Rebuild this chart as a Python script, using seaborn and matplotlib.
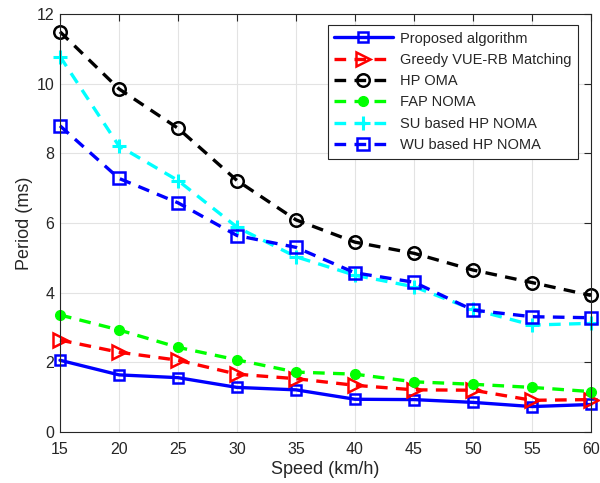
import matplotlib
matplotlib.use("Agg")
import matplotlib.pyplot as plt
import seaborn as sns
import pandas as pd

speed = [15, 20, 25, 30, 35, 40, 45, 50, 55, 60]
proposed = [2.06, 1.64, 1.56, 1.28, 1.21, 0.94, 0.93, 0.85, 0.73, 0.79]
greedy = [2.64, 2.29, 2.06, 1.66, 1.53, 1.34, 1.21, 1.20, 0.91, 0.93]
hp_oma = [11.49, 9.85, 8.72, 7.22, 6.09, 5.45, 5.13, 4.65, 4.29, 3.92]
fap_noma = [3.36, 2.93, 2.43, 2.07, 1.72, 1.66, 1.44, 1.37, 1.28, 1.16]
su_hp_noma = [10.78, 8.21, 7.22, 5.88, 5.03, 4.50, 4.17, 3.52, 3.07, 3.12]
wu_hp_noma = [8.79, 7.28, 6.58, 5.64, 5.30, 4.57, 4.30, 3.50, 3.31, 3.28]

dash = (0, (3.5, 2.5))
series = [
    ("Proposed algorithm", proposed, dict(color="#0000ff", marker="s", ls="-", ms=7, mfc="none", mew=1.8)),
    ("Greedy VUE-RB Matching", greedy, dict(color="#ff0000", marker=">", ls=dash, ms=10, mfc="none", mew=1.8)),
    ("HP OMA", hp_oma, dict(color="#000000", marker="o", ls=dash, ms=9, mfc="none", mew=1.8)),
    ("FAP NOMA", fap_noma, dict(color="#00ff00", marker="o", ls=dash, ms=7, mfc="#00ff00", mew=1.0)),
    ("SU based HP NOMA", su_hp_noma, dict(color="#00ffff", marker="+", ls=dash, ms=10, mfc="none", mew=2.2)),
    ("WU based HP NOMA", wu_hp_noma, dict(color="#0000ff", marker="s", ls=dash, ms=8, mfc="none", mew=1.8)),
]

sns.set_style("whitegrid", {"grid.color": "#e3e3e3", "axes.edgecolor": "#262626"})
plt.rcParams["font.family"] = ["Liberation Sans", "DejaVu Sans"]

fig = plt.figure(figsize=(6.0, 4.83), dpi=100)
ax = fig.add_axes([0.1, 0.1056, 0.885, 0.8654])

for name, vals, st in series:
    df = pd.DataFrame({"speed": speed, "period": vals})
    sns.lineplot(data=df, x="speed", y="period", ax=ax, label=name,
                 color=st["color"], marker=st["marker"], linestyle=st["ls"],
                 linewidth=2.4, markersize=st["ms"], markerfacecolor=st["mfc"],
                 markeredgecolor=st["color"], markeredgewidth=st["mew"],
                 clip_on=False, zorder=3)

ax.set_xlim(15, 60)
ax.set_ylim(0, 12)
ax.set_xticks(speed)
ax.set_yticks([0, 2, 4, 6, 8, 10, 12])
ax.set_xlabel("Speed (km/h)", fontsize=13, labelpad=3)
ax.set_ylabel("Period (ms)", fontsize=13, labelpad=3)
ax.tick_params(axis="both", which="both", direction="in", length=5, width=0.8,
               top=True, right=True, labelsize=11.5, colors="#262626",
               labelcolor="#262626")
ax.tick_params(axis="x", pad=7)
ax.tick_params(axis="y", pad=4)
for sp in ax.spines.values():
    sp.set_linewidth(0.8)
    sp.set_color("#262626")
    sp.set_zorder(4)
ax.grid(True, color="#e3e3e3", linewidth=0.8)

leg = ax.legend(loc="upper right", bbox_to_anchor=(0.9755, 0.9737), borderaxespad=0,
                fontsize=10.5, frameon=True, fancybox=False, edgecolor="#262626",
                framealpha=1, handlelength=4.0, borderpad=0.45, labelspacing=0.5,
                handletextpad=0.5)
leg.get_frame().set_linewidth(0.8)
leg.set_zorder(5)

fig.savefig("out.png", dpi=100)
